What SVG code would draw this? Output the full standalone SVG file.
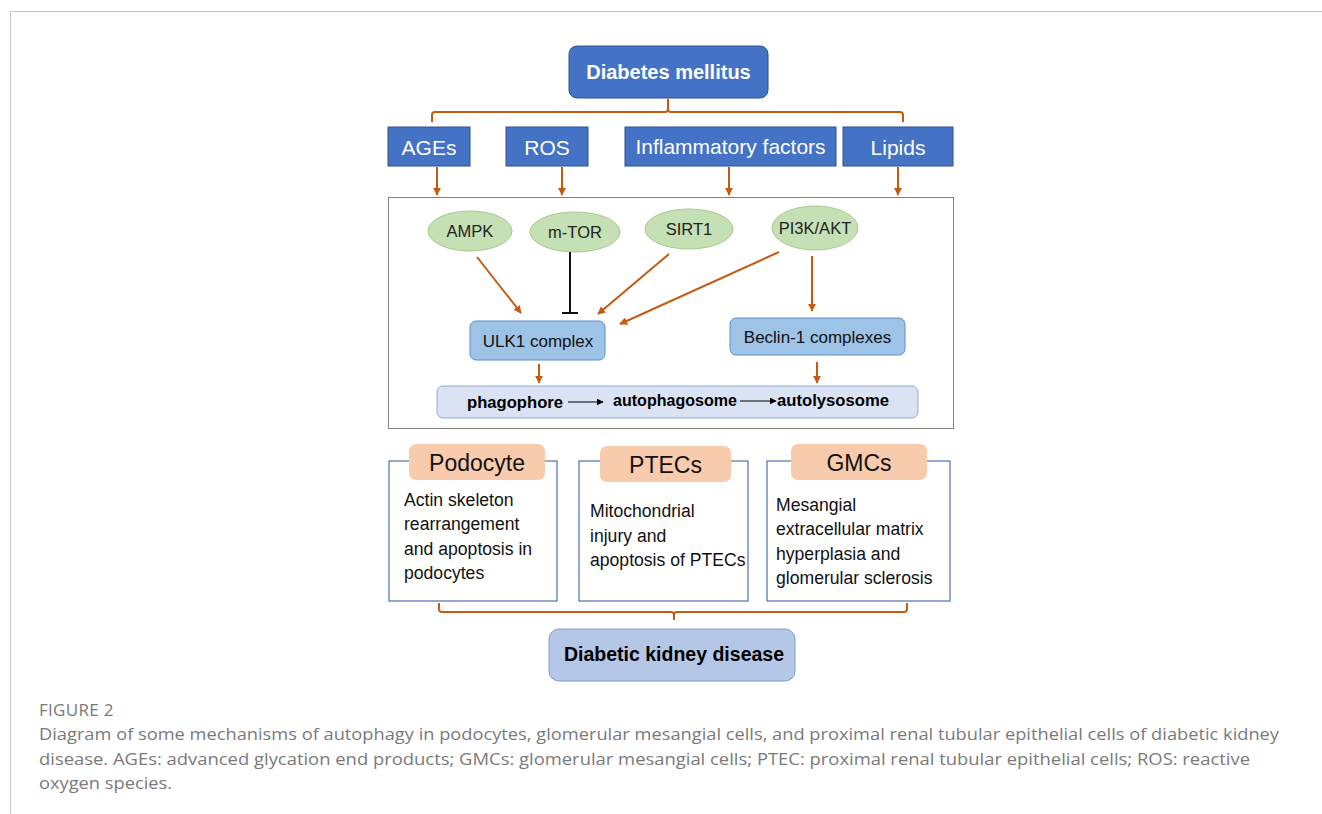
<svg xmlns="http://www.w3.org/2000/svg" width="1322" height="814" viewBox="0 0 1322 814">
<defs>
<marker id="ah" viewBox="0 0 10 10" refX="9" refY="5" markerWidth="8" markerHeight="8" markerUnits="userSpaceOnUse" orient="auto">
<path d="M0,0 L10,5 L0,10 z" fill="#C55A11"/>
</marker>
<marker id="ahk" viewBox="0 0 10 10" refX="9" refY="5" markerWidth="7" markerHeight="7" markerUnits="userSpaceOnUse" orient="auto">
<path d="M0,0 L10,5 L0,10 z" fill="#000"/>
</marker>
<style>
.t{font-family:"Liberation Sans",Arial,sans-serif;}
.blue{fill:#4472C4;stroke:#2F528F;stroke-width:1;}
.wt{fill:#fff;font-size:21px;text-anchor:middle;}
.ell{fill:#C5E0B4;stroke:#A9C98F;stroke-width:1;}
.et{fill:#222;font-size:16.5px;text-anchor:middle;}
.cx{fill:#9DC3E6;stroke:#5B8FC9;stroke-width:1;}
.ct{fill:#111;font-size:17px;text-anchor:middle;}
.or{stroke:#C55A11;stroke-width:2;fill:none;}
.cell{fill:#fff;stroke:#4F71B5;stroke-width:1.2;}
.hdr{fill:#F8CBAD;stroke:none;}
.ht{fill:#111;font-size:23px;text-anchor:middle;}
.bt{fill:#111;font-size:17.6px;}
.pb{fill:#000;font-size:16.5px;font-weight:bold;}
.cap{fill:#7a7a7a;font-family:"Open Sans","Liberation Sans",sans-serif;font-size:17px;}
</style>
</defs>
<rect width="1322" height="814" fill="#fff"/>
<path d="M10.5,814 V11.5 H1322" fill="none" stroke="#c8c8c8" stroke-width="1"/>

<g id="diabetes">
<rect x="569" y="46" width="199" height="52" rx="8" class="blue"/>
<text x="668.5" y="79" class="t" fill="#fff" font-size="20" font-weight="bold" text-anchor="middle">Diabetes mellitus</text>
</g>

<g id="ages"><rect x="388" y="127" width="82" height="39" class="blue"/><text x="429" y="155" class="t wt">AGEs</text></g>
<g id="ros"><rect x="506" y="127" width="82" height="39" class="blue"/><text x="547" y="155" class="t wt">ROS</text></g>
<g id="inflam"><rect x="625" y="127" width="211" height="39" class="blue"/><text x="730.5" y="154" class="t wt">Inflammatory factors</text></g>
<g id="lipids"><rect x="843" y="127" width="110" height="39" class="blue"/><text x="898" y="155" class="t wt">Lipids</text></g>

<g id="pathway-box"><rect x="388.5" y="197.5" width="565" height="231" fill="#fff" stroke="#808080" stroke-width="1"/></g>

<g id="ampk"><ellipse cx="470" cy="231" rx="42" ry="20" class="ell"/><text x="470" y="237" class="t et">AMPK</text></g>
<g id="mtor"><ellipse cx="575" cy="232" rx="45" ry="20" class="ell"/><text x="575" y="238" class="t et">m-TOR</text></g>
<g id="sirt1"><ellipse cx="689" cy="229" rx="44" ry="20" class="ell"/><text x="689" y="235" class="t et">SIRT1</text></g>
<g id="pi3k"><ellipse cx="815" cy="228" rx="43" ry="22" class="ell"/><text x="815" y="234" class="t et">PI3K/AKT</text></g>

<g id="ulk1"><rect x="470" y="321" width="135" height="39" rx="6" class="cx"/><text x="538" y="347" class="t ct">ULK1 complex</text></g>
<g id="beclin"><rect x="730" y="318" width="175" height="37" rx="6" class="cx"/><text x="817.5" y="343" class="t ct">Beclin-1 complexes</text></g>

<g id="autophagy">
<rect x="437" y="386" width="481" height="32" rx="6" fill="#DAE3F3" stroke="#8FAADC" stroke-width="1"/>
<text x="467" y="408" class="t pb" textLength="96" lengthAdjust="spacingAndGlyphs">phagophore</text>
<text x="613" y="406" class="t pb" textLength="124" lengthAdjust="spacingAndGlyphs">autophagosome</text>
<text x="777" y="406" class="t pb" textLength="112" lengthAdjust="spacingAndGlyphs">autolysosome</text>
<line x1="568" y1="402" x2="603" y2="402" stroke="#000" stroke-width="1" marker-end="url(#ahk)"/>
<line x1="740" y1="401" x2="776" y2="401" stroke="#000" stroke-width="1" marker-end="url(#ahk)"/>
</g>

<g id="podocyte">
<rect x="389" y="461" width="168" height="140" class="cell"/>
<rect x="409" y="444" width="136" height="36" rx="7" class="hdr"/>
<text x="477" y="471" class="t ht">Podocyte</text>
<text class="t bt"><tspan x="404" y="506">Actin skeleton</tspan><tspan x="404" y="530">rearrangement</tspan><tspan x="404" y="555">and apoptosis in</tspan><tspan x="404" y="579">podocytes</tspan></text>
</g>
<g id="ptecs">
<rect x="579" y="461" width="169" height="140" class="cell"/>
<rect x="600" y="446" width="131" height="36" rx="7" class="hdr"/>
<text x="665.5" y="473" class="t ht">PTECs</text>
<text class="t bt"><tspan x="590" y="517">Mitochondrial</tspan><tspan x="590" y="542">injury and</tspan><tspan x="590" y="566">apoptosis of PTECs</tspan></text>
</g>
<g id="gmcs">
<rect x="767" y="461" width="183" height="140" class="cell"/>
<rect x="791" y="444" width="136" height="36" rx="7" class="hdr"/>
<text x="859" y="471" class="t ht">GMCs</text>
<text class="t bt"><tspan x="776" y="511">Mesangial</tspan><tspan x="776" y="535">extracellular matrix</tspan><tspan x="776" y="560">hyperplasia and</tspan><tspan x="776" y="584">glomerular sclerosis</tspan></text>
</g>

<g id="dkd">
<rect x="549" y="629" width="246" height="52" rx="10" fill="#B4C7E7" stroke="#7E9BD0" stroke-width="1"/>
<text x="674" y="661" class="t" fill="#000" font-size="19.5" font-weight="bold" text-anchor="middle">Diabetic kidney disease</text>
</g>

<g id="connectors">
<path class="or" d="M432,122 V115 Q432,112 435,112 H665 Q668,112 668,109 V99 M668,109 Q668,112 671,112 H900 Q903,112 903,115 V122"/>
<line class="or" x1="437" y1="167" x2="437" y2="195" marker-end="url(#ah)" stroke-width="1.6"/>
<line class="or" x1="562" y1="167" x2="562" y2="195" marker-end="url(#ah)" stroke-width="1.6"/>
<line class="or" x1="729" y1="167" x2="729" y2="195" marker-end="url(#ah)" stroke-width="1.6"/>
<line class="or" x1="898" y1="167" x2="898" y2="195" marker-end="url(#ah)" stroke-width="1.6"/>
<line class="or" x1="477" y1="257" x2="521" y2="313" marker-end="url(#ah)" stroke-width="1.6"/>
<line x1="570" y1="252" x2="570" y2="313" stroke="#111" stroke-width="2"/>
<line x1="562" y1="313" x2="578" y2="313" stroke="#111" stroke-width="2"/>
<line class="or" x1="669" y1="254" x2="598" y2="314" marker-end="url(#ah)" stroke-width="1.6"/>
<line class="or" x1="779" y1="252" x2="620" y2="324" marker-end="url(#ah)" stroke-width="1.6"/>
<line class="or" x1="812" y1="256" x2="812" y2="311" marker-end="url(#ah)" stroke-width="1.6"/>
<line class="or" x1="539" y1="364" x2="539" y2="383" marker-end="url(#ah)" stroke-width="1.6"/>
<line class="or" x1="817" y1="362" x2="817" y2="383" marker-end="url(#ah)" stroke-width="1.6"/>
<path class="or" d="M439,603 V609 Q439,612 442,612 H671 Q674,612 674,615 V620 M674,615 Q674,612 677,612 H904 Q907,612 907,609 V603"/>
</g>

<g id="caption">
<text x="39" y="716" class="cap" font-size="13" letter-spacing="0.3">FIGURE 2</text>
<text x="39" y="740" class="cap" textLength="1240" lengthAdjust="spacingAndGlyphs">Diagram of some mechanisms of autophagy in podocytes, glomerular mesangial cells, and proximal renal tubular epithelial cells of diabetic kidney</text>
<text x="39" y="765" class="cap" textLength="1211" lengthAdjust="spacingAndGlyphs">disease. AGEs: advanced glycation end products; GMCs: glomerular mesangial cells; PTEC: proximal renal tubular epithelial cells; ROS: reactive</text>
<text x="39" y="789" class="cap" textLength="133" lengthAdjust="spacingAndGlyphs">oxygen species.</text>
</g>
</svg>
